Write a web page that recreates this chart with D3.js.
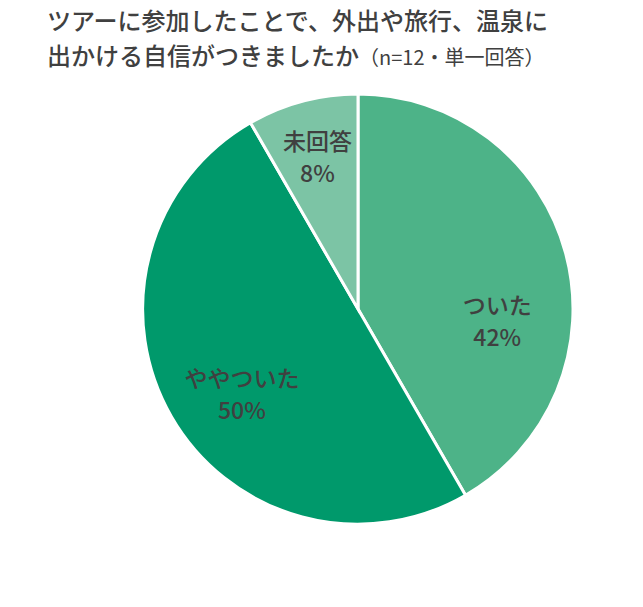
<!DOCTYPE html>
<html>
<head>
<meta charset="utf-8">
<script src="https://cdn.jsdelivr.net/npm/d3@7"></script>
<style>
  body { margin: 0; background: #fff; }
  svg { font-family: "Noto Sans CJK JP", "Noto Sans", sans-serif; }
</style>
</head>
<body>
<div id="chart"></div>
<script>
// Survey answers, n=12, single answer
const categories = ["ついた", "ややついた", "未回答"];
const counts = [5, 6, 1];
const percentLabels = ["42%", "50%", "8%"];
const colors = ["#4db388", "#00996b", "#7cc4a5"];

const width = 643;
const height = 607;
const cx = 358;
const cy = 309;
const radius = 215;

const svg = d3.select("#chart").append("svg")
    .attr("width", width)
    .attr("height", height);

// title
const title = svg.append("g")
    .attr("fill", "#404040")
    .attr("font-weight", 500);

title.append("text")
    .attr("x", 47)
    .attr("y", 30)
    .attr("font-size", 24)
    .text("ツアーに参加したことで、外出や旅行、温泉に");

const line2 = title.append("text")
    .attr("x", 47)
    .attr("y", 65)
    .attr("font-size", 24);
line2.append("tspan").text("出かける自信がつきましたか");
line2.append("tspan")
    .attr("font-size", 20)
    .attr("font-weight", "normal")
    .text("（n=12・単一回答）");

const pie = d3.pie().sort(null).value(d => d);
const arcs = pie(counts);

const arc = d3.arc().innerRadius(0).outerRadius(radius);

const g = svg.append("g")
    .attr("transform", `translate(${cx},${cy})`);

g.selectAll("path")
    .data(arcs)
    .join("path")
    .attr("d", arc)
    .attr("fill", (d, i) => colors[i])
    .attr("stroke", "#fff")
    .attr("stroke-width", 3);

// label placement: radius factor and angular nudge (radians) per slice
const labelRadius = [0.65, 0.67, 0.73];
const labelNudge = [0.35, -0.11, 0];

const label = g.append("g")
    .attr("text-anchor", "middle")
    .attr("fill", "#404040")
    .attr("font-size", 23)
    .attr("font-weight", 500)
    .selectAll("text")
    .data(arcs)
    .join("text")
    .attr("transform", (d, i) => {
        const a = (d.startAngle + d.endAngle) / 2 + labelNudge[i];
        const r = radius * labelRadius[i];
        return `translate(${r * Math.sin(a)},${-r * Math.cos(a)})`;
    });

label.append("tspan")
    .attr("x", 0)
    .attr("y", -7)
    .text((d, i) => categories[i]);

label.append("tspan")
    .attr("x", 0)
    .attr("y", 25)
    .text((d, i) => percentLabels[i]);
</script>
</body>
</html>
